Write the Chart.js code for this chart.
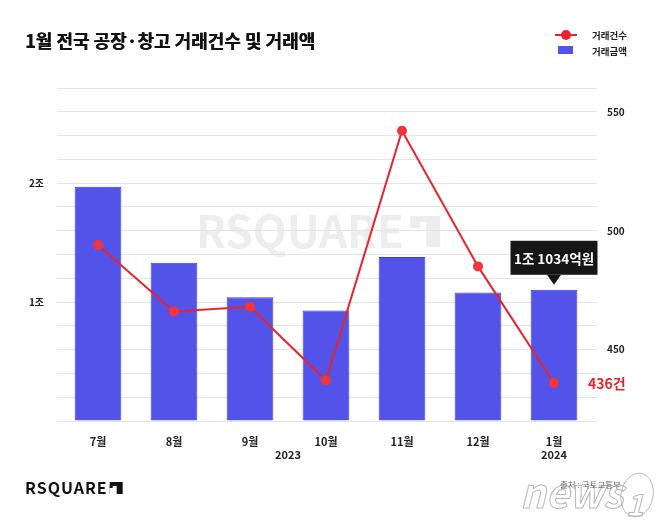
<!DOCTYPE html>
<html>
<head>
<meta charset="utf-8">
<script src="https://cdn.jsdelivr.net/npm/chart.js@4/dist/chart.umd.min.js"></script>
<style>
html,body{margin:0;padding:0;background:#fff;}
#wrap{width:658px;height:522px;position:relative;}
</style>
</head>
<body>
<div id="wrap"><canvas id="c" width="658" height="522"></canvas></div>
<script>
const months = ['7월','8월','9월','10월','11월','12월','1월'];
const years = ['2023','2024'];
const yearSpans = [[0,5],[6,6]];
const amounts = [1.97, 1.33, 1.04, 0.93, 1.38, 1.08, 1.1034]; // 조 원
const counts = [494, 466, 468, 437, 542, 485, 436]; // 건
const leftTicks = {min:0, max:2.8, step:0.2, labeled:[1,2]};
const rightTicks = {min:420, max:560, step:10, labeled:[450,500,550]};
const titleText = '1월 전국 공장·창고 거래건수 및 거래액';
const sourceText = '출처 : 국토교통부';

const FONT = '"Noto Sans CJK KR", "Noto Sans", sans-serif';
const BAR = '#5353EA';
const RED = '#E8232D';

const deco = {
  id:'deco',
  beforeDraw(chart){
    const ctx = chart.ctx;
    ctx.save();
    ctx.fillStyle = '#fff';
    ctx.fillRect(0,0,chart.width,chart.height);
    // watermark
    ctx.fillStyle = '#ededed';
    ctx.font = 'bold 44px ' + FONT;
    ctx.textBaseline = 'middle';
    ctx.textAlign = 'left';
    const wx = 196, wy = 231;
    ctx.fillText('RSQUARE', wx, wy);
    const tw = ctx.measureText('RSQUARE').width;
    ctx.fillRect(wx + tw + 6, wy - 15, 30, 31);
    ctx.fillStyle = '#fff';
    ctx.fillRect(wx + tw + 6, wy - 9, 16, 25);
    ctx.fillStyle = '#ededed';
    ctx.fillRect(wx + tw + 6, wy - 9, 10, 6);
    ctx.restore();
  },
  afterDraw(chart){
    const ctx = chart.ctx, x = chart.scales.x, yl = chart.scales.y, yr = chart.scales.y1;
    ctx.save();
    // title
    ctx.fillStyle = '#111';
    ctx.font = 'bold 18px ' + FONT;
    ctx.textBaseline = 'middle';
    ctx.textAlign = 'left';
    ctx.fillText(titleText, 25, 41);
    ctx.fillText(titleText, 25.4, 41);
    // legend
    const ds0 = chart.data.datasets[0], ds1 = chart.data.datasets[1];
    ctx.strokeStyle = RED; ctx.lineWidth = 2;
    ctx.beginPath(); ctx.moveTo(555,35); ctx.lineTo(577,35); ctx.stroke();
    ctx.fillStyle = RED;
    ctx.beginPath(); ctx.arc(566,35,5,0,Math.PI*2); ctx.fill();
    ctx.fillStyle = BAR;
    ctx.fillRect(558,46,15,8);
    ctx.fillStyle = '#222';
    ctx.font = 'bold 9.5px ' + FONT;
    ctx.fillText(ds0.label, 592, 35);
    ctx.fillText(ds1.label, 592, 51);
    // years
    ctx.font = 'bold 11px ' + FONT;
    ctx.textAlign = 'center';
    ctx.fillStyle = '#222';
    years.forEach((yy,i)=>{
      const s = yearSpans[i];
      const cx = (x.getPixelForValue(s[0]) + x.getPixelForValue(s[1]))/2;
      ctx.fillText(yy, cx, 455);
    });
    // callout box on last bar
    const li = amounts.length - 1;
    const bx = x.getPixelForValue(li);
    const by = yl.getPixelForValue(amounts[li]);
    const jo = Math.floor(amounts[li]);
    const eok = Math.round((amounts[li]-jo)*10000);
    const txt = jo + '조 ' + eok + '억원';
    ctx.font = 'bold 13.5px ' + FONT;
    const w = 87, h = 34;
    const bottom = by - 15;
    ctx.fillStyle = '#161616';
    ctx.fillRect(bx - w/2, bottom - h, w, h);
    ctx.beginPath();
    ctx.moveTo(bx - 7, bottom); ctx.lineTo(bx + 7, bottom); ctx.lineTo(bx, bottom + 10); ctx.closePath(); ctx.fill();
    ctx.fillStyle = '#fff';
    ctx.fillText(txt, bx, bottom - h/2 + 1);
    // last count label
    const py = yr.getPixelForValue(counts[li]);
    ctx.fillStyle = RED;
    ctx.font = 'bold 14px ' + FONT;
    ctx.textAlign = 'left';
    ctx.fillText(counts[li] + '건', bx + 34, py + 1);
    // logo
    ctx.fillStyle = '#111';
    ctx.font = 'bold 16px ' + FONT;
    ctx.textAlign = 'left';
    ctx.letterSpacing = '1px';
    ctx.fillText('RSQUARE', 25, 488);
    const lw = ctx.measureText('RSQUARE').width;
    ctx.letterSpacing = '0px';
    ctx.fillRect(25 + lw + 2, 482, 13, 12);
    ctx.fillStyle = '#fff';
    ctx.fillRect(25 + lw + 2, 486, 7, 8);
    ctx.fillStyle = '#111';
    ctx.fillRect(25 + lw + 2, 486, 3, 2);
    // news1 watermark
    ctx.font = 'italic bold 40px ' + FONT;
    ctx.strokeStyle = '#b8b8b8'; ctx.lineWidth = 1;
    ctx.fillStyle = '#ffffff';
    ctx.textAlign = 'left';
    ctx.fillText('news', 520, 493);
    ctx.strokeText('news', 520, 493);
    ctx.beginPath(); ctx.ellipse(637, 495, 16, 22, 0.2, 0, Math.PI*2); ctx.stroke();
    ctx.font = 'italic bold 30px ' + FONT;
    ctx.strokeText('1', 626, 505);
    // source
    ctx.fillStyle = '#666';
    ctx.font = '8.5px ' + FONT;
    ctx.fillText(sourceText, 560, 485);
    ctx.restore();
  }
};

function tickLabel(spec, suffix){
  return function(v){
    for (const t of spec.labeled){ if (Math.abs(v - t) < 1e-6) return t + suffix; }
    return '';
  };
}

new Chart(document.getElementById('c'), {
  data: {
    labels: months,
    datasets: [
      { type:'line', label:'거래건수', data:counts, yAxisID:'y1', borderColor:RED, backgroundColor:'#F2353A',
        borderWidth:2, pointRadius:5, pointHoverRadius:5, pointBorderWidth:0, tension:0, order:0 },
      { type:'bar', label:'거래금액', data:amounts, yAxisID:'y', backgroundColor:BAR, borderColor:'#3d3dcc',
        borderWidth:1, barPercentage:0.615, categoryPercentage:1, order:1 }
    ]
  },
  options: {
    responsive:false, animation:false,
    layout:{ padding:{ top:88, bottom:71, left:0, right:0 } },
    plugins:{ legend:{display:false}, tooltip:{enabled:false} },
    scales:{
      x:{
        grid:{display:false}, border:{display:false},
        ticks:{ color:'#222', font:{family:FONT, size:11, weight:'bold'}, padding:6, maxRotation:0 },
        afterFit(s){ s.height = 30; }
      },
      y:{
        position:'left', min:leftTicks.min, max:leftTicks.max,
        grid:{ color:'#e4e4e4', lineWidth:1, drawTicks:true, tickLength:3, tickColor:'#e4e4e4' },
        border:{display:false},
        ticks:{ stepSize:leftTicks.step, autoSkip:false, color:'#222', font:{family:FONT, size:10, weight:'bold'}, padding:13,
          callback: tickLabel(leftTicks, '조') },
        afterFit(s){ s.width = 60; }
      },
      y1:{
        position:'right', min:rightTicks.min, max:rightTicks.max,
        grid:{ drawOnChartArea:false, color:'#e4e4e4', drawTicks:true, tickLength:5, tickColor:'#e4e4e4' },
        border:{display:false},
        ticks:{ stepSize:rightTicks.step, autoSkip:false, color:'#222', font:{family:FONT, size:10, weight:'bold'}, padding:10,
          callback: tickLabel(rightTicks, '') },
        afterFit(s){ s.width = 66; }
      }
    }
  },
  plugins:[deco]
});
</script>
</body>
</html>
